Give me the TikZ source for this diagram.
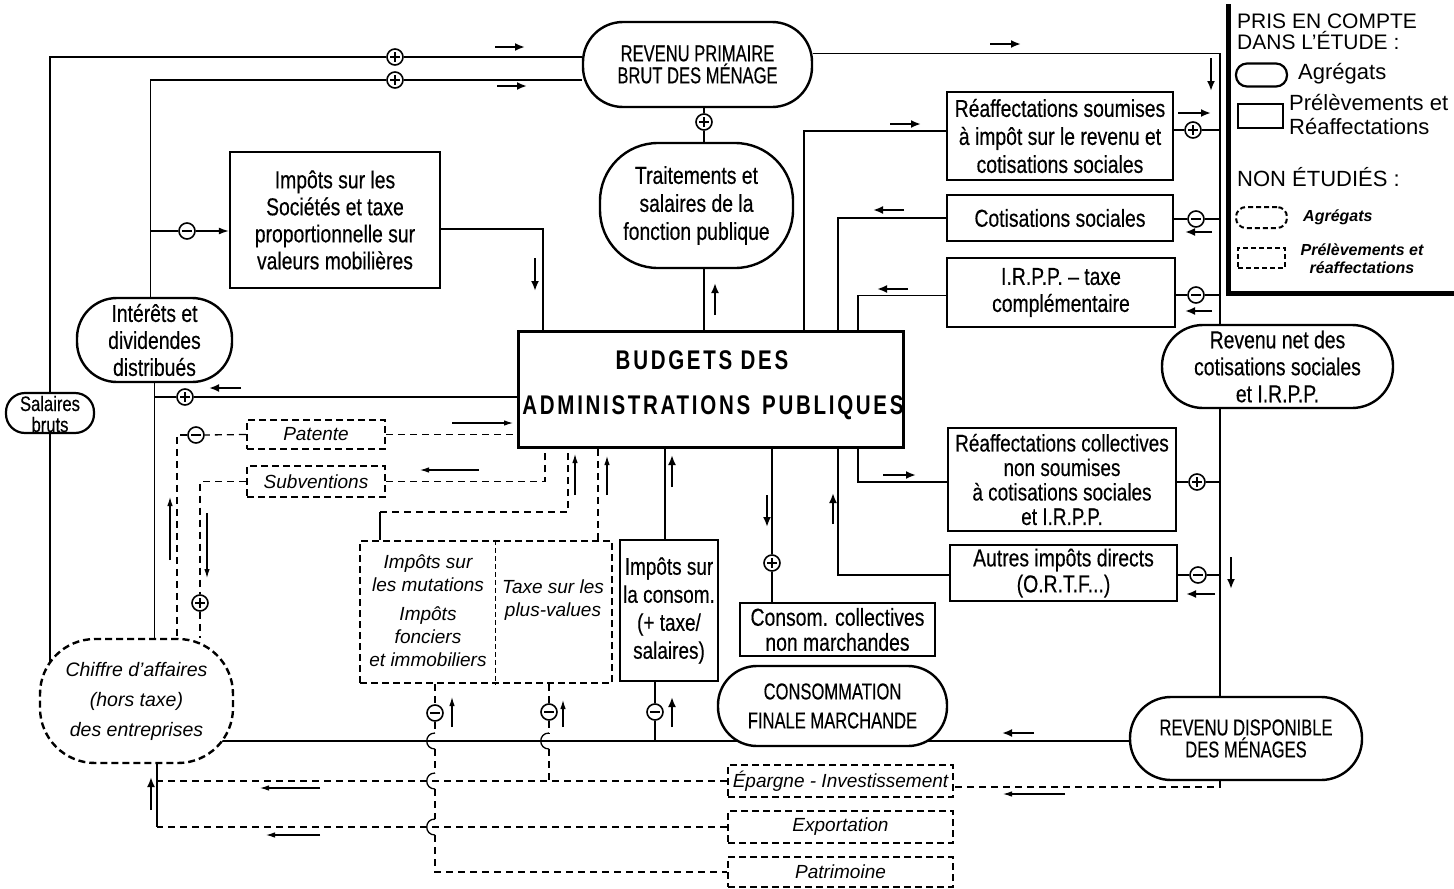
\documentclass[tikz,border=0pt]{standalone}
\usepackage{fontspec}
\setmainfont{Liberation Sans}
\newfontfamily\cnd[FakeStretch=0.79,FakeBold=0.35]{Liberation Sans}
\newfontfamily\upcfont[FakeStretch=0.72,FakeBold=0.35]{Liberation Sans}
\newfontfamily\bud[FakeStretch=0.76,LetterSpace=10]{Liberation Sans}
\usetikzlibrary{arrows.meta,backgrounds}
\begin{document}
\begin{tikzpicture}[x=1pt,y=-1pt,
 box/.style={draw,line width=2.4pt,fill=white,inner sep=1pt,align=center,font=\cnd\fontsize{24.5}{27}\selectfont},
 agg/.style={box,font=\upcfont\fontsize{23}{22}\selectfont},
 dbox/.style={draw,line width=2.4pt,dash pattern=on 7pt off 4pt,fill=white,inner sep=1pt,align=center,font=\itshape\fontsize{19}{23}\selectfont},
 itx/.style={inner sep=0pt,align=center,font=\itshape\fontsize{19}{23}\selectfont},
 con/.style={line width=1.3pt},
 dcon/.style={line width=1.3pt,dash pattern=on 7pt off 5pt},
 sgn/.style={circle,draw,line width=1.6pt,minimum size=16pt,inner sep=0pt,fill=white},
 pl/.style={sgn,path picture={\draw[line width=1.5pt] ([xshift=-5pt]path picture bounding box.center) -- ([xshift=5pt]path picture bounding box.center) ([yshift=-5pt]path picture bounding box.center) -- ([yshift=5pt]path picture bounding box.center);}},
 mn/.style={sgn,path picture={\draw[line width=1.8pt] ([xshift=-5pt]path picture bounding box.center) -- ([xshift=5pt]path picture bounding box.center);}},
 thk/.style={line width=2.6pt,-{Latex[length=10pt,width=8pt]}},
 thn/.style={line width=1.1pt,-{Latex[length=9pt,width=5.5pt]}},
 lgt/.style={inner sep=0pt,align=left,font=\fontsize{21}{21}\selectfont},
 lgi/.style={inner sep=0pt,align=center,font=\bfseries\itshape\fontsize{16}{18}\selectfont}]
\useasboundingbox (0,0) rectangle (1454,889);

% ---------- nodes ----------
\node[agg,rounded corners=40pt,minimum width=229pt,minimum height=85pt] (rpb) at (697.5,64.5) {REVENU PRIMAIRE\\BRUT DES MÉNAGE};
\node[box,rounded corners=58pt,minimum width=193pt,minimum height=125pt,font=\cnd\fontsize{24.5}{28}\selectfont] (trait) at (696.5,205.5) {Traitements et\\salaires de la\\fonction publique};
\node[box,minimum width=210pt,minimum height=136pt] (impsoc) at (335,220) {Impôts sur les\\Sociétés et taxe\\proportionnelle sur\\valeurs mobilières};
\node[box,rounded corners=40pt,minimum width=155pt,minimum height=84pt] (inter) at (154.5,340) {Intérêts et\\dividendes\\distribués};
\node[draw,line width=2.2pt,fill=white,rounded corners=19pt,minimum width=88pt,minimum height=40pt] (salb) at (50,413) {};
\node[inner sep=0pt,align=center,font=\cnd\fontsize{21}{21}\selectfont] (salbt) at (50,414) {Salaires\\bruts};
\node[draw,line width=3pt,fill=white,minimum width=385pt,minimum height=116pt] (budget) at (710.5,389) {};
\node[inner sep=0pt,font=\bud\bfseries\fontsize{27}{27}\selectfont] (budt1) at (702,360) {BUDGETS DES};
\node[inner sep=0pt,font=\bud\bfseries\fontsize{27}{27}\selectfont] (budt2) at (713,408) {ADMINISTRATIONS\hspace{12pt}PUBLIQUES};
\node[box,minimum width=226pt,minimum height=88pt,font=\cnd\fontsize{24.5}{28}\selectfont] (reaf1) at (1060,136) {Réaffectations soumises\\à impôt sur le revenu et\\cotisations sociales};
\node[box,minimum width=226pt,minimum height=46pt] (cotis) at (1060,218) {Cotisations sociales};
\node[box,minimum width=228pt,minimum height=69pt] (irpp) at (1061,292.5) {I.R.P.P. – taxe\\complémentaire};
\node[box,rounded corners=41pt,minimum width=231pt,minimum height=83pt] (revnet) at (1277.5,366.5) {Revenu net des\\cotisations sociales\\et I.R.P.P.};
\node[box,minimum width=228pt,minimum height=103pt,font=\cnd\fontsize{24}{24.5}\selectfont] (reaf2) at (1062,479.5) {Réaffectations collectives\\non soumises\\à cotisations sociales\\et I.R.P.P.};
\node[box,minimum width=227pt,minimum height=56pt,font=\cnd\fontsize{24.5}{26}\selectfont] (autres) at (1063.5,573) {Autres impôts directs\\(O.R.T.F...)};
\node[agg,rounded corners=41pt,minimum width=232pt,minimum height=83pt] (revdisp) at (1246,738.5) {REVENU DISPONIBLE\\DES MÉNAGES};
\node[agg,rounded corners=39pt,minimum width=229pt,minimum height=80pt,font=\upcfont\fontsize{23}{29}\selectfont] (consfm) at (832.5,706) {CONSOMMATION\\FINALE MARCHANDE};
\node[box,minimum width=195pt,minimum height=53pt,font=\cnd\fontsize{24.5}{25}\selectfont] (conscol) at (837.5,629.5) {Consom. collectives\\non marchandes};
\node[box,minimum width=98pt,minimum height=141pt,inner sep=0pt,font=\cnd\fontsize{24}{28}\selectfont] (impcons) at (669,610.5) {Impôts sur\\la consom.\\(+ taxe/\\salaires)};
\node[dbox,minimum width=252pt,minimum height=142pt] (mut) at (486,612) {};
\coordinate (dv) at (495,612);
\draw[line width=1pt,dash pattern=on 5pt off 3pt] (mut.north -| dv) -- (mut.south -| dv);
\node[itx] (mutt) at (428,611) {Impôts sur\\les mutations\\[6pt]Impôts\\fonciers\\et immobiliers};
\node[itx] (taxt) at (553,600) {Taxe sur les\\plus-values};
\node[dbox,minimum width=138pt,minimum height=29pt] (patente) at (316,434.5) {Patente};
\node[dbox,minimum width=138pt,minimum height=31pt] (subv) at (316,481.5) {Subventions};
\node[dbox,rounded corners=55pt,minimum width=193pt,minimum height=124pt,font=\itshape\fontsize{19.5}{30}\selectfont] (chiffre) at (136.5,701) {Chiffre d’affaires\\(hors taxe)\\des entreprises};
\node[dbox,minimum width=225pt,minimum height=32pt] (epargne) at (840.5,781) {Épargne - Investissement};
\node[dbox,minimum width=225pt,minimum height=32pt] (export) at (840.5,827) {Exportation};
\node[dbox,minimum width=225pt,minimum height=30pt] (patri) at (840.5,872) {Patrimoine};

% signs
\node[pl] (p1) at (395,57) {};
\node[pl] (p2) at (395,80) {};
\node[mn] (m1) at (187,231) {};
\node[pl] (p3) at (704,122) {};
\node[pl] (p4) at (185,397) {};
\node[mn] (m2) at (196,435) {};
\node[pl] (p5) at (200,603) {};
\node[pl] (p6) at (1193,130) {};
\node[mn] (m3) at (1196,219) {};
\node[mn] (m4) at (1196,295) {};
\node[pl] (p7) at (1197,482) {};
\node[mn] (m5) at (1198,575) {};
\node[pl] (p8) at (772,563) {};
\node[mn] (m6) at (435,713) {};
\node[mn] (m7) at (549,712) {};
\node[mn] (m8) at (655,712) {};

% helper coordinates
\coordinate (xr) at (1220,53);
\coordinate (j1) at (150.5,231);
\coordinate (bt1) at (543,331);
\coordinate (bt2) at (804,331);
\coordinate (bt3) at (838,331);
\coordinate (bt4) at (858,331);
\coordinate (bb1) at (858,447);
\coordinate (bb2) at (838,447);
\coordinate (bb3) at (772,447);
\coordinate (bb4) at (665,447);
\coordinate (bb5) at (545,447);
\coordinate (bb6) at (568,447);
\coordinate (bb7) at (598,447);
\coordinate (xl1) at (177,435);
\coordinate (mt) at (380,512);
\coordinate (cb) at (157,827);
\coordinate (ml) at (136.5,741);

% ---------- connectors ----------
\begin{scope}[on background layer]
\draw[con] (salb.north) |- (p1.west);
\draw[con] (p1.east) -- (p1 -| rpb.west);
\draw[con] (salb.south) -- (salb.south |- chiffre.center);
\draw[con] ([xshift=-4pt]inter.north) |- (p2.west);
\draw[con] (p2.east) -- (p2 -| rpb.west);
\draw[con] (j1) -- (m1.west);
\draw[con] ([yshift=-9pt]impsoc.east) -| (bt1);
\draw[con] (p3.north) -- (p3 |- rpb.south);
\draw[con] (p3.south) -- (p3 |- trait.north);
\draw[con] (p3 |- trait.south) -- (p3 |- budget.north);
\draw[con] ([yshift=11pt]rpb.east) -| (revnet.north -| xr);
\draw[con] (revnet.south -| xr) -- (revdisp.north -| xr);
\draw[con] ([yshift=5pt]reaf1.west) -| (bt2);
\draw[con] (cotis.west) -| (bt3);
\draw[con] ([yshift=-3pt]irpp.west) -| (bt4);
\draw[con] (bb1) |- ([yshift=-2.5pt]reaf2.west);
\draw[con] ([yshift=-2pt]autres.west) -| (bb2);
\draw[con] (p6.west) -- (p6 -| reaf1.east);
\draw[con] (p6.east) -- (p6 -| xr);
\draw[con] (m3.west) -- (m3 -| cotis.east);
\draw[con] (m3.east) -- (m3 -| xr);
\draw[con] (m4.west) -- (m4 -| irpp.east);
\draw[con] (m4.east) -- (m4 -| xr);
\draw[con] (p7.west) -- (p7 -| reaf2.east);
\draw[con] (p7.east) -- (p7 -| xr);
\draw[con] (m5.west) -- (m5 -| autres.east);
\draw[con] (m5.east) -- (m5 -| xr);
\draw[con] (bb3) -- (p8.north);
\draw[con] (p8.south) -- (p8 |- conscol.north);
\draw[con] (bb4) -- (bb4 |- impcons.north);
\draw[con] (m8 |- impcons.south) -- (m8.north);
\draw[con] (m8.south) -- (m8 |- ml);
\draw[con] ([yshift=-2.5pt]revdisp.west) -- (ml);
\draw[con] (p4.east) -- (p4 -| budget.west);
\draw[con] (p4.west) -- (p4 -| inter.south);
\draw[con] (inter.south) -- (inter.south |- chiffre.north);
\draw[dcon] (patente.east) -- (patente.east -| budget.west);
\draw[dcon] (patente.west) -- (m2.east);
\draw[dcon] (m2.west) -| (chiffre.north -| xl1);
\draw[dcon] (subv.west) -| (p5.north);
\draw[dcon] (p5.south) -- (p5 |- chiffre.north);
\draw[dcon] (subv.east) -| (bb5);
\draw[con] (mut.north -| mt) -- (mt);
\draw[dcon] (mt) -| (bb6);
\draw[dcon] (mut.north -| bb7) -- (bb7);
% bottom
\draw[con] (chiffre.south -| cb) -- (cb);
\draw[dcon] (export.west) -- (cb);
\draw[dcon] (epargne.west) -- (epargne.west -| cb);
\draw[dcon] (revdisp.south -| xr) |- ([yshift=-6pt]epargne.east);
% vertical at x=435 with hops
\draw[dcon] (m6 |- mut.south) -- (m6.north);
\draw[dcon] (m6.south) -- (435,733);
\draw[con] (435,733) .. controls (424,733) and (424,749) .. (435,749);
\draw[dcon] (435,749) -- (435,773);
\draw[con] (435,773) .. controls (424,773) and (424,789) .. (435,789);
\draw[dcon] (435,789) -- (435,819);
\draw[con] (435,819) .. controls (424,819) and (424,835) .. (435,835);
\draw[dcon] (435,835) |- (patri.west);
% vertical at x=549
\draw[dcon] (m7 |- mut.south) -- (m7.north);
\draw[dcon] (m7.south) -- (549,733);
\draw[con] (549,733) .. controls (538,733) and (538,749) .. (549,749);
\draw[dcon] (549,749) -- (epargne.west -| m7);
\end{scope}
\draw[con,-{Latex[length=10pt,width=7pt]}] (m1.east) -- (m1 -| impsoc.west);

% ---------- flow arrows ----------
\draw[thk] (495,47) -- (525,47);
\draw[thk] (497,86) -- (527,86);
\draw[thk] (990,44) -- (1021,44);
\draw[thk] (1211,58) -- (1211,91);
\draw[thk] (1178,113) -- (1211,113);
\draw[thk] (1212,232) -- (1185,232);
\draw[thk] (1212,311) -- (1185,311);
\draw[thk] (904,210) -- (873,210);
\draw[thk] (908,289) -- (877,289);
\draw[thk] (890,124) -- (921,124);
\draw[thk] (883,475) -- (916,475);
\draw[thk] (833,524) -- (833,493);
\draw[thk] (1215,594) -- (1186,594);
\draw[thk] (1231,557) -- (1231,589);
\draw[thk] (535,258) -- (535,291);
\draw[thk] (715,315) -- (715,283);
\draw[thk] (241,388) -- (209,388);
\draw[thk] (767,495) -- (767,527);
\draw[thk] (672,487) -- (672,455);
\draw[thk] (672,727) -- (672,697);
\draw[thk] (1034,733) -- (1002,733);
\draw[thk] (151,810) -- (151,777);
\draw[thn] (452,423) -- (513,423);
\draw[thn] (479,470) -- (420,470);
\draw[thn] (575,495) -- (575,454);
\draw[thn] (607,495) -- (607,456);
\draw[thn] (170,560) -- (170,497);
\draw[thn] (207,513) -- (207,578);
\draw[thn] (452,727) -- (452,697);
\draw[thn] (563,727) -- (563,700);
\draw[thn] (320,788) -- (260,788);
\draw[thn] (320,835) -- (266,835);
\draw[thn] (1065,794) -- (1003,794);

% ---------- legend ----------
\draw[line width=5pt] (1228,4) -- (1228,293) -- (1454,293);
\node[lgt,anchor=west] (lg1) at (1237,32) {PRIS EN COMPTE\\DANS L’ÉTUDE :};
\node[draw,line width=2.2pt,rounded corners=11pt,minimum width=51pt,minimum height=23pt] (lgs) at (1261.5,75) {};
\node[lgt,anchor=west,font=\fontsize{22}{22}\selectfont] (lg2) at (1298,74) {Agrégats};
\node[draw,line width=1.6pt,minimum width=45pt,minimum height=24pt] (lgr) at (1260.5,116) {};
\node[lgt,anchor=west,font=\fontsize{22}{24}\selectfont] (lg3) at (1289,115) {Prélèvements et\\Réaffectations};
\node[lgt,anchor=west,font=\fontsize{22}{22}\selectfont] (lg4) at (1237,177) {NON ÉTUDIÉS :};
\node[draw,line width=2pt,dash pattern=on 5pt off 3pt,rounded corners=10pt,minimum width=51pt,minimum height=21pt] (lgds) at (1261.5,217.5) {};
\node[lgi,anchor=west] (lg5) at (1303,217) {Agrégats};
\node[draw,line width=1.4pt,dash pattern=on 5pt off 3pt,minimum width=47pt,minimum height=20pt] (lgdr) at (1261.5,258) {};
\node[lgi] (lg6) at (1362,259) {Prélèvements et\\réaffectations};
\end{tikzpicture}
\end{document}
